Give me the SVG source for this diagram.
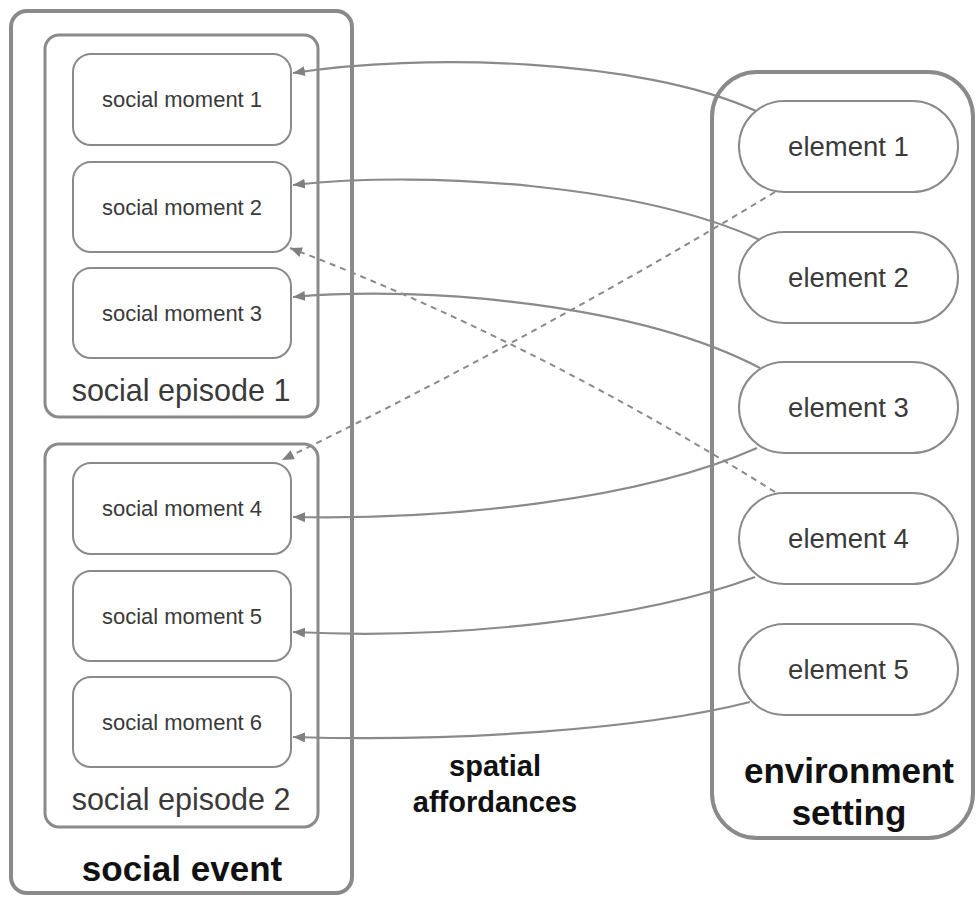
<svg xmlns="http://www.w3.org/2000/svg" width="977" height="898" viewBox="0 0 977 898">
  <defs>
    <marker id="arrow" markerUnits="userSpaceOnUse" markerWidth="13" markerHeight="11" refX="12" refY="5" orient="auto">
      <path d="M0,0 L12,5 L0,10 z" fill="#808080"/>
    </marker>
    <style>
      .outer { fill: none; stroke: #8a8a8a; stroke-width: 4; }
      .episode { fill: none; stroke: #8a8a8a; stroke-width: 3; }
      .box { fill: #fff; stroke: #8a8a8a; stroke-width: 2; }
      .moment-text { font-family: "Liberation Sans", Arial, sans-serif; font-size: 22px; fill: #3a3a3a; text-anchor: middle; }
      .episode-text { font-family: "Liberation Sans", Arial, sans-serif; font-size: 30.5px; fill: #3a3a3a; text-anchor: middle; }
      .element-text { font-family: "Liberation Sans", Arial, sans-serif; font-size: 27.5px; fill: #3a3a3a; text-anchor: middle; }
      .title { font-family: "Liberation Sans", Arial, sans-serif; font-weight: bold; fill: #111; text-anchor: middle; }
      .link { fill: none; stroke: #8a8a8a; stroke-width: 2.2; marker-end: url(#arrow); }
      .dashed { stroke-dasharray: 6 5; stroke-width: 2; }
    </style>
  </defs>
  <rect width="977" height="898" fill="#fff"/>

  <!-- social event container -->
  <g id="social-event">
    <rect class="outer" x="11" y="11" width="341" height="882" rx="16"/>
    <text class="title" x="182" y="881" font-size="35">social event</text>
  </g>

  <!-- social episodes -->
  <g id="social-episode-1">
    <rect class="episode" x="45" y="35" width="273" height="382" rx="14"/>
    <text class="episode-text" x="181" y="401">social episode 1</text>
  </g>
  <g id="social-episode-2">
    <rect class="episode" x="45" y="444" width="273" height="383" rx="14"/>
    <text class="episode-text" x="181" y="810">social episode 2</text>
  </g>

  <!-- environment setting container -->
  <g id="environment-setting">
    <rect class="outer" x="712" y="72" width="261" height="766" rx="45"/>
    <text class="title" x="849" y="783" font-size="35">environment</text>
    <text class="title" x="849" y="825" font-size="35">setting</text>
  </g>

  <!-- social moments -->
  <g id="moment-1"><rect class="box" x="73" y="54" width="218" height="91" rx="18"/><text class="moment-text" x="182" y="107">social moment 1</text></g>
  <g id="moment-2"><rect class="box" x="73" y="162" width="218" height="90" rx="18"/><text class="moment-text" x="182" y="215">social moment 2</text></g>
  <g id="moment-3"><rect class="box" x="73" y="268" width="218" height="90" rx="18"/><text class="moment-text" x="182" y="321">social moment 3</text></g>
  <g id="moment-4"><rect class="box" x="73" y="463" width="218" height="91" rx="18"/><text class="moment-text" x="182" y="516">social moment 4</text></g>
  <g id="moment-5"><rect class="box" x="73" y="571" width="218" height="90" rx="18"/><text class="moment-text" x="182" y="624">social moment 5</text></g>
  <g id="moment-6"><rect class="box" x="73" y="677" width="218" height="90" rx="18"/><text class="moment-text" x="182" y="730">social moment 6</text></g>

  <!-- environment elements -->
  <g id="element-1"><rect class="box" x="739" y="101" width="219" height="91" rx="45.5"/><text class="element-text" x="848.5" y="156">element 1</text></g>
  <g id="element-2"><rect class="box" x="739" y="232" width="219" height="91" rx="45.5"/><text class="element-text" x="848.5" y="287">element 2</text></g>
  <g id="element-3"><rect class="box" x="739" y="362" width="219" height="91" rx="45.5"/><text class="element-text" x="848.5" y="417">element 3</text></g>
  <g id="element-4"><rect class="box" x="739" y="493" width="219" height="91" rx="45.5"/><text class="element-text" x="848.5" y="548">element 4</text></g>
  <g id="element-5"><rect class="box" x="739" y="624" width="219" height="91" rx="45.5"/><text class="element-text" x="848.5" y="679">element 5</text></g>

  <!-- spatial affordances label -->
  <g id="spatial-affordances">
    <text class="title" x="495" y="776" font-size="29">spatial</text>
    <text class="title" x="495" y="812" font-size="29">affordances</text>
  </g>

  <!-- connectors -->
  <g id="connectors">
    <path class="link" d="M756,111 C640,58 420,53 293,73"/>
    <path class="link" d="M760,240 C640,185 430,170 293,185"/>
    <path class="link" d="M760,368 C640,305 430,285 293,297"/>
    <path class="link" d="M757,448 C640,500 450,520 293,517"/>
    <path class="link" d="M755,577 C640,620 450,640 293,632"/>
    <path class="link" d="M750,702 C640,730 450,742 293,737"/>
    <path class="link dashed" d="M775,192 Q530,340 282,460"/>
    <path class="link dashed" d="M775,492 Q532,340 290,248"/>
  </g>
</svg>
